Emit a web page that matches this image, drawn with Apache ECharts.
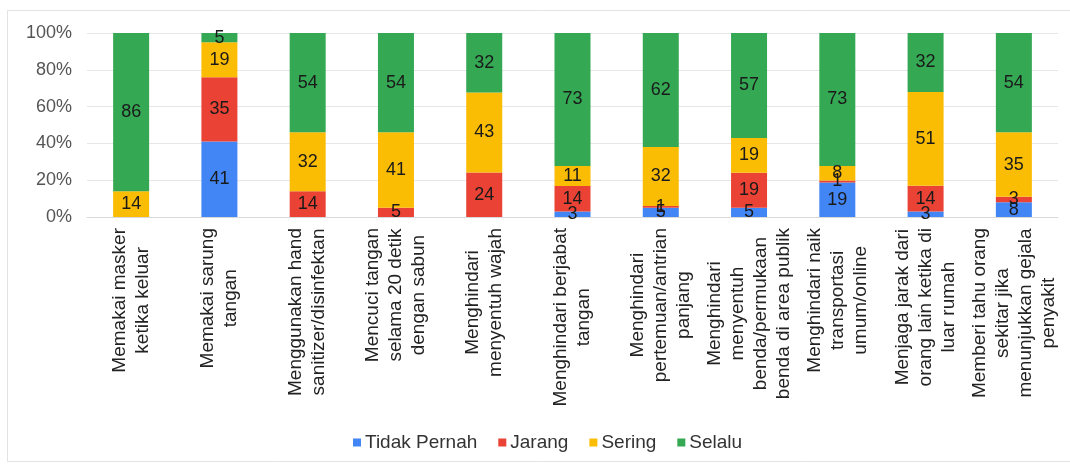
<!DOCTYPE html>
<html>
<head>
<meta charset="utf-8">
<script src="https://cdn.jsdelivr.net/npm/echarts@6/dist/echarts.min.js"></script>
<style>
  html, body { margin: 0; padding: 0; background: #fff; }
  #chart { width: 1070px; height: 466px; }
</style>
</head>
<body>
<div id="chart"></div>
<script>
const categories = [
  "Memakai masker\nketika keluar",
  "Memakai sarung\ntangan",
  "Menggunakan hand\nsanitizer/disinfektan",
  "Mencuci tangan\nselama 20 detik\ndengan sabun",
  "Menghindari\nmenyentuh wajah",
  "Menghindari berjabat\ntangan",
  "Menghindari\npertemuan/antrian\npanjang",
  "Menghindari\nmenyentuh\nbenda/permukaan\nbenda di area publik",
  "Menghindari naik\ntransportasi\numum/online",
  "Menjaga jarak dari\norang lain ketika di\nluar rumah",
  "Memberi tahu orang\nsekitar jika\nmenunjukkan gejala\npenyakit"
];
const seriesNames = ["Tidak Pernah", "Jarang", "Sering", "Selalu"];
const tidakPernah = [0, 41, 0, 0, 0, 3, 5, 5, 19, 3, 8];
const jarang      = [0, 35, 14, 5, 24, 14, 1, 19, 1, 14, 3];
const sering      = [14, 19, 32, 41, 43, 11, 32, 19, 8, 51, 35];
const selalu      = [86, 5, 54, 54, 32, 73, 62, 57, 73, 32, 54];
const yTicks = [0, 20, 40, 60, 80, 100];

const colors = ["#4285F4", "#EA4335", "#FBBC04", "#34A853"];
const FONT = "'Liberation Sans', Arial, sans-serif";
const raw = [tidakPernah, jarang, sering, selalu];
const totals = categories.map((_, i) => raw.reduce((s, arr) => s + arr[i], 0));

const series = raw.map((arr, k) => ({
  name: seriesNames[k],
  type: 'bar',
  stack: 'total',
  barWidth: 36,
  itemStyle: { color: colors[k] },
  data: arr.map((v, i) => ({ value: v / totals[i] * 100, raw: v })),
  label: {
    show: true,
    position: 'inside',
    fontFamily: FONT,
    fontSize: 18,
    color: '#1a1a1a',
    formatter: p => (p.data.raw > 0 ? String(p.data.raw) : '')
  }
}));

const chart = echarts.init(document.getElementById('chart'), null, { renderer: 'canvas' });
chart.setOption({
  animation: false,
  color: colors,
  graphic: [{
    type: 'rect',
    shape: { x: 7.5, y: 10.5, width: 1080, height: 451 },
    style: { fill: 'none', stroke: '#e3e3e3', lineWidth: 1 },
    silent: true
  }],
  grid: { left: 87, right: 12, top: 33, bottom: 249, containLabel: false },
  legend: {
    data: seriesNames,
    left: 348,
    top: 428,
    icon: 'rect',
    itemWidth: 8,
    itemHeight: 8,
    itemGap: 21,
    textStyle: { fontFamily: FONT, fontSize: 19, color: '#333', padding: [0, 0, 0, -1] }
  },
  xAxis: {
    type: 'category',
    data: categories,
    axisLine: { show: true, lineStyle: { color: '#d9d9d9' } },
    axisTick: { show: false },
    axisLabel: {
      interval: 0,
      rotate: 90,
      margin: 11,
      formatter: v => v.split('\n').map(l => '{c|' + l + '}').join('\n'),
      rich: {
        c: { align: 'center', fontFamily: FONT, fontSize: 19, lineHeight: 23, color: '#222' }
      }
    }
  },
  yAxis: {
    type: 'value',
    min: yTicks[0],
    max: yTicks[yTicks.length - 1],
    interval: yTicks[1] - yTicks[0],
    axisLine: { show: false },
    axisTick: { show: false },
    splitLine: { lineStyle: { color: '#e6e6e6' } },
    axisLabel: {
      margin: 15,
      fontFamily: FONT,
      fontSize: 18,
      color: '#555',
      formatter: '{value}%'
    }
  },
  series: series
});
</script>
</body>
</html>
